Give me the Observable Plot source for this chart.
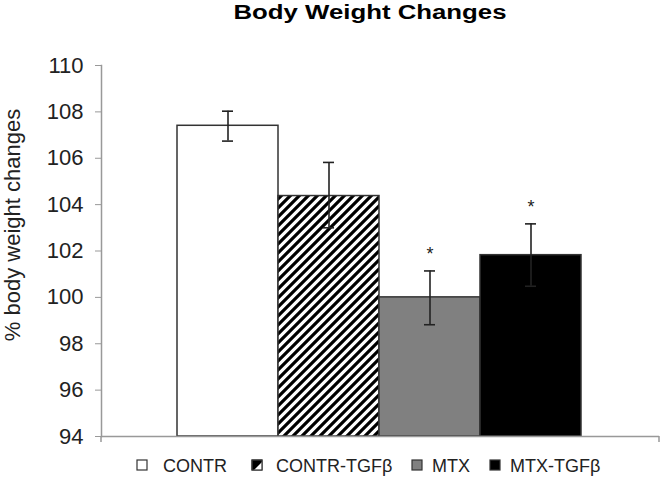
<!DOCTYPE html>
<html><head><meta charset="utf-8">
<script src="https://cdn.jsdelivr.net/npm/d3@7"></script>
<script src="https://cdn.jsdelivr.net/npm/@observablehq/plot@0.6"></script>
<style>body{margin:0;background:#fff} #chart svg{display:block}</style>
</head><body><div id="chart"></div>
<script>
const groups = ["CONTR", "CONTR-TGFβ", "MTX", "MTX-TGFβ"];
const values = [107.4, 104.37, 100.0, 101.82];
const errLow = [106.74, 103.0, 98.82, 100.48];
const errHigh = [108.03, 105.82, 101.14, 103.17];
const significant = [false, false, true, true];
const fills = ["#ffffff", "url(#hatch)", "#808080", "#000000"];
const yTicks = [94, 96, 98, 100, 102, 104, 106, 108, 110];
const titleText = "Body Weight Changes";
const yLabel = "% body weight changes";

const data = groups.map((g, i) => ({group: g, value: values[i], lo: errLow[i], hi: errHigh[i], sig: significant[i], fill: fills[i]}));
const font = "'Liberation Sans', Arial, sans-serif";

const chart = Plot.plot({
  width: 664, height: 482,
  marginLeft: 101, marginRight: 5, marginTop: 65, marginBottom: 46,
  style: {fontFamily: font, fontSize: "22px", color: "#222", background: "#fff"},
  x: {type: "band", domain: groups, range: [177, 581], padding: 0, axis: null},
  y: {domain: [94, 110]},
  color: {type: "identity"},
  marks: [
    Plot.barY(data, {x: "group", y1: 94, y2: "value", fill: "fill", stroke: "#333", strokeWidth: 1.5}),
    Plot.ruleX(data, {x: "group", y1: "lo", y2: "hi", stroke: "#222", strokeWidth: 1.6}),
    Plot.tickY(data, {x: "group", y: "lo", stroke: "#222", strokeWidth: 1.6, insetLeft: 45, insetRight: 45}),
    Plot.tickY(data, {x: "group", y: "hi", stroke: "#222", strokeWidth: 1.6, insetLeft: 45, insetRight: 45}),
    Plot.text(data.filter(d => d.sig), {x: "group", y: "hi", text: () => "*", dy: -17, fontSize: 18, fill: "#222"}),
    Plot.ruleY([94], {stroke: "#999", strokeWidth: 1.5}),
    Plot.axisY({ticks: yTicks, tickSize: 6, tickPadding: 12, label: null, stroke: "#999", fill: "#222", fontSize: 22}),
    Plot.frame({anchor: "left", stroke: "#999", strokeWidth: 1.5})
  ]
});
document.getElementById("chart").appendChild(chart);

const svg = d3.select(chart);
const y = chart.scale("y");
const y0 = y.apply(94);

// hatch pattern
const defs = svg.insert("defs", ":first-child");
const pat = defs.append("pattern").attr("id", "hatch").attr("patternUnits", "userSpaceOnUse")
  .attr("width", 9).attr("height", 9);
pat.append("rect").attr("width", 9).attr("height", 9).attr("fill", "#fff");
pat.append("path").attr("d", "M-2,2 L2,-2 M0,9 L9,0 M7,11 L11,7").attr("stroke", "#000").attr("stroke-width", 3.2);

// small end ticks on category axis
[101, 659].forEach(xx => svg.append("line").attr("x1", xx).attr("x2", xx).attr("y1", y0).attr("y2", y0 + 6)
  .attr("stroke", "#999").attr("stroke-width", 1.5));

// title
svg.append("text").text(titleText).attr("x", 370).attr("y", 19).attr("text-anchor", "middle")
  .attr("font-family", font).attr("font-weight", "bold").attr("font-size", 20).attr("fill", "#000")
  .attr("textLength", 273).attr("lengthAdjust", "spacingAndGlyphs");

// y label
svg.append("text").text(yLabel).attr("transform", "translate(20,225) rotate(-90)").attr("text-anchor", "middle")
  .attr("font-family", font).attr("font-size", 22).attr("fill", "#222");

// legend
const legBoxX = [137, 252, 412, 490];
const legTextX = [163, 276, 432, 510];
const leg = svg.append("g").attr("font-family", font).attr("font-size", 18).attr("fill", "#222").attr("text-anchor", "start");
groups.forEach((g, i) => {
  if (i === 1) {
    leg.append("rect").attr("x", legBoxX[i]).attr("y", 460).attr("width", 10).attr("height", 10).attr("fill", "#000").attr("stroke", "#333");
    leg.append("path").attr("d", `M${legBoxX[i] + 10},${462} L${legBoxX[i] + 10},470 L${legBoxX[i] + 2},470 Z`).attr("fill", "#fff");
    leg.append("rect").attr("x", legBoxX[i]).attr("y", 460).attr("width", 10).attr("height", 10).attr("fill", "none").attr("stroke", "#333").attr("stroke-width", 1.2);
  } else {
    leg.append("rect").attr("x", legBoxX[i]).attr("y", 460).attr("width", 10).attr("height", 10)
      .attr("fill", fills[i]).attr("stroke", "#333").attr("stroke-width", 1.2);
  }
  leg.append("text").attr("x", legTextX[i]).attr("y", 472).attr("text-anchor", "start").text(g);
});
</script>
</body></html>
